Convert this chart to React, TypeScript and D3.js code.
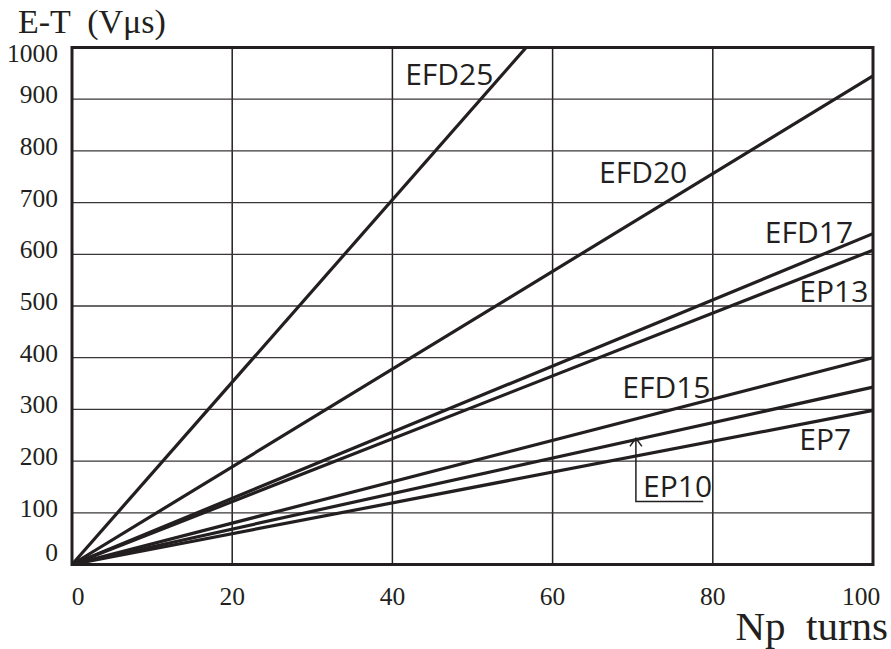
import React from "react";
import * as d3 from "d3";

// core types, all lines start at the origin
const seriesNames = ["EFD25", "EFD20", "EFD17", "EP13", "EFD15", "EP10", "EP7"];
const endTurns = [56.7, 100, 100, 100, 100, 100, 100];
const endValues = [1000, 945, 640, 608, 400, 343, 298];

const xTicks = [0, 20, 40, 60, 80, 100];
const yTicks = [0, 100, 200, 300, 400, 500, 600, 700, 800, 900, 1000];

// label placement in data units (turns, Vus)
const labelPos: Record<string, [number, number]> = {
  EFD25: [41.6, 927],
  EFD20: [65.8, 737],
  EFD17: [86.5, 621],
  EP13: [90.8, 507],
  EFD15: [68.7, 323],
  EP10: [71.3, 131],
  EP7: [90.8, 222],
};

const width = 891;
const height = 649;
const ink = "#231f20";

export default function App() {
  const x = d3.scaleLinear().domain([0, 100]).range([72, 873]);
  const y = d3.scaleLinear().domain([0, 1000]).range([564.5, 47.5]);
  const line = d3
    .line<[number, number]>()
    .x((d) => x(d[0]))
    .y((d) => y(d[1]));

  const series = seriesNames.map((name, i) => ({
    name,
    points: [
      [0, 0],
      [endTurns[i], endValues[i]],
    ] as [number, number][],
  }));

  // EP10 callout: arrow pointing up to the EP10 line
  const cx = x(70.4);
  const tipY = y(244);
  const footY = y(122);

  return (
    <svg
      width={width}
      height={height}
      style={{ position: "absolute", left: 0, top: 0, background: "#fff" }}
    >
      {/* grid */}
      {xTicks.slice(1, -1).map((t) => (
        <line key={"gx" + t} x1={x(t)} x2={x(t)} y1={y(0)} y2={y(1000)} stroke={ink} strokeWidth={1.5} />
      ))}
      {yTicks.slice(1, -1).map((t) => (
        <line key={"gy" + t} x1={x(0)} x2={x(100)} y1={y(t)} y2={y(t)} stroke="#3a3637" strokeWidth={1.3} />
      ))}

      {/* data lines */}
      {series.map((s) => (
        <path key={s.name} d={line(s.points) || ""} fill="none" stroke={ink} strokeWidth={3.2} />
      ))}

      {/* frame */}
      <rect
        x={x(0)}
        y={y(1000)}
        width={x(100) - x(0)}
        height={y(0) - y(1000)}
        fill="none"
        stroke={ink}
        strokeWidth={3}
      />

      {/* y tick labels */}
      {yTicks.map((t) => (
        <text
          key={"yl" + t}
          x={58}
          y={y(t) + (t === 0 ? -4 : t === 1000 ? 14 : 4)}
          textAnchor="end"
          fontFamily="Liberation Serif"
          fontSize={25.5}
          fill={ink}
        >
          {t}
        </text>
      ))}

      {/* x tick labels */}
      {xTicks.map((t) => (
        <text
          key={"xl" + t}
          x={x(t) + (t === 0 ? 6 : t === 100 ? -12 : 0)}
          y={605}
          textAnchor="middle"
          fontFamily="Liberation Serif"
          fontSize={25.5}
          fill={ink}
        >
          {t}
        </text>
      ))}

      {/* axis titles */}
      <text x={18} y={33} fontFamily="Liberation Serif" fontSize={34} fill={ink} style={{ whiteSpace: "pre" }}>
        {"E-T  (Vμs)"}
      </text>
      <text
        x={888}
        y={640}
        textAnchor="end"
        fontFamily="Liberation Serif"
        fontSize={41}
        fill={ink}
        style={{ whiteSpace: "pre" }}
      >
        {"Np  turns"}
      </text>

      {/* series labels */}
      {seriesNames.map((name) => (
        <text
          key={"lab" + name}
          x={x(labelPos[name][0])}
          y={y(labelPos[name][1])}
          fontFamily="Open Sans"
          fontSize={30}
          fill={ink}
        >
          {name}
        </text>
      ))}

      {/* EP10 callout */}
      <path
        d={`M${cx},${tipY} V${footY} H${x(78.8)}`}
        fill="none"
        stroke={ink}
        strokeWidth={1.5}
      />
      <path
        d={`M${cx - 6},${tipY + 8} L${cx},${tipY} L${cx + 6},${tipY + 8}`}
        fill="none"
        stroke={ink}
        strokeWidth={1.5}
      />
    </svg>
  );
}
